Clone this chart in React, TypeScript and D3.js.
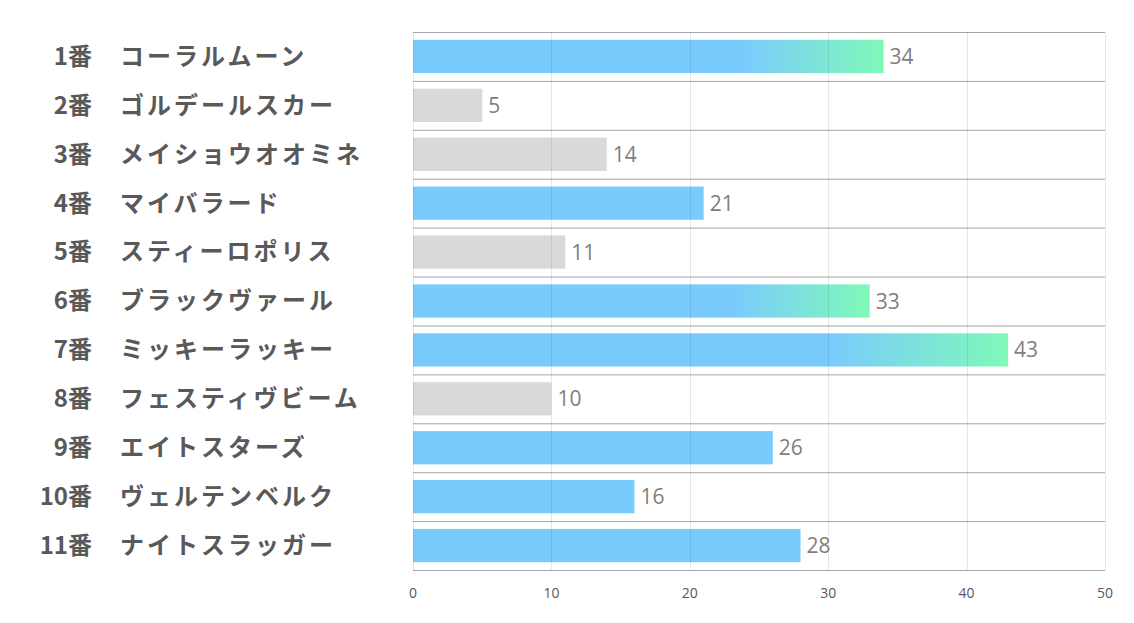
import React, { useEffect, useRef } from 'react';
import * as d3 from 'd3';

// horse numbers and names, top to bottom
const numbers = ['1番', '2番', '3番', '4番', '5番', '6番', '7番', '8番', '9番', '10番', '11番'];
const names = [
  'コーラルムーン', 'ゴルデールスカー', 'メイショウオオミネ', 'マイバラード', 'スティーロポリス',
  'ブラックヴァール', 'ミッキーラッキー', 'フェスティヴビーム', 'エイトスターズ', 'ヴェルテンベルク', 'ナイトスラッガー',
];
const values = [34, 5, 14, 21, 11, 33, 43, 10, 26, 16, 28];
// 'grad' = blue to green, 'blue' = plain, 'gray' = muted
const kinds = ['grad', 'gray', 'gray', 'blue', 'gray', 'grad', 'grad', 'gray', 'blue', 'blue', 'blue'];
const xTicks = [0, 10, 20, 30, 40, 50];

function App() {
  const ref = useRef<SVGSVGElement>(null);

  useEffect(() => {
    const svg = d3.select(ref.current);
    svg.selectAll('*').remove();

    const margin = { top: 32, left: 413, right: 29, bottom: 53 };
    const W = 1134, H = 623;
    const innerW = W - margin.left - margin.right;
    const innerH = H - margin.top - margin.bottom;

    const x = d3.scaleLinear().domain([0, 50]).range([0, innerW]);
    const y = d3.scaleBand<number>().domain(d3.range(values.length)).range([0, innerH]).paddingInner(0.32).paddingOuter(0.16);
    const band = d3.scaleBand<number>().domain(d3.range(values.length)).range([0, innerH]);

    const defs = svg.append('defs');
    const lg = defs.append('linearGradient').attr('id', 'barGrad')
      .attr('x1', '0%').attr('x2', '100%').attr('y1', '0%').attr('y2', '0%');
    lg.append('stop').attr('offset', '0%').attr('stop-color', '#7acbfd');
    lg.append('stop').attr('offset', '70%').attr('stop-color', '#7acbfd');
    lg.append('stop').attr('offset', '100%').attr('stop-color', '#80f9b8');

    const g = svg.append('g').attr('transform', `translate(${margin.left},${margin.top})`);

    // horizontal band separators
    g.selectAll('.hline')
      .data(d3.range(values.length + 1))
      .enter().append('line')
      .attr('x1', 0).attr('x2', innerW)
      .attr('y1', d => d * band.step() + 0.5)
      .attr('y2', d => d * band.step() + 0.5)
      .attr('stroke', '#a6a6a6').attr('stroke-width', 1);

    // bars
    g.selectAll('.bar')
      .data(values)
      .enter().append('rect')
      .attr('x', 0)
      .attr('y', (d, i) => y(i)!)
      .attr('width', d => x(d))
      .attr('height', y.bandwidth())
      .attr('fill', (d, i) => kinds[i] === 'grad' ? 'url(#barGrad)' : kinds[i] === 'blue' ? '#7acbfd' : '#d9d9d9');

    // vertical gridlines on top of bars
    g.selectAll('.vline')
      .data(xTicks)
      .enter().append('line')
      .attr('x1', d => Math.round(x(d)) + 0.5).attr('x2', d => Math.round(x(d)) + 0.5)
      .attr('y1', 0).attr('y2', innerH)
      .attr('stroke', 'rgba(0,0,0,0.09)').attr('stroke-width', 1);

    // value labels
    g.selectAll('.val')
      .data(values)
      .enter().append('text')
      .attr('x', d => x(d) + 6)
      .attr('y', (d, i) => y(i)! + y.bandwidth() / 2)
      .attr('dy', '0.36em')
      .attr('fill', '#7f7f7f')
      .attr('font-size', 21)
      .attr('font-family', '"Open Sans", "Noto Sans", sans-serif')
      .text(d => d);

    // x tick labels
    g.selectAll('.tick')
      .data(xTicks)
      .enter().append('text')
      .attr('x', d => x(d))
      .attr('y', innerH + 28)
      .attr('text-anchor', 'middle')
      .attr('fill', '#595959')
      .attr('font-size', 14)
      .attr('font-family', '"Open Sans", "Noto Sans", sans-serif')
      .text(d => d);

    // category labels
    const labels = svg.append('g').attr('transform', `translate(0,${margin.top})`);
    labels.selectAll('.num')
      .data(numbers)
      .enter().append('text')
      .attr('x', 92)
      .attr('y', (d, i) => band(i)! + band.bandwidth() / 2)
      .attr('dy', '0.35em')
      .attr('text-anchor', 'end')
      .attr('fill', '#595959')
      .attr('font-size', 24)
      .attr('font-weight', 'bold')
      .attr('font-family', '"Noto Sans CJK JP", sans-serif')
      .text(d => d);
    labels.selectAll('.name')
      .data(names)
      .enter().append('text')
      .attr('x', 120)
      .attr('y', (d, i) => band(i)! + band.bandwidth() / 2)
      .attr('dy', '0.35em')
      .attr('fill', '#595959')
      .attr('font-size', 24)
      .attr('letter-spacing', 3)
      .attr('font-weight', 'bold')
      .attr('font-family', '"Noto Sans CJK JP", sans-serif')
      .text(d => d);
  }, []);

  return (
    <svg ref={ref} width={1134} height={623}
      style={{ position: 'absolute', left: 0, top: 0, background: '#fff' }} />
  );
}

export default App;
